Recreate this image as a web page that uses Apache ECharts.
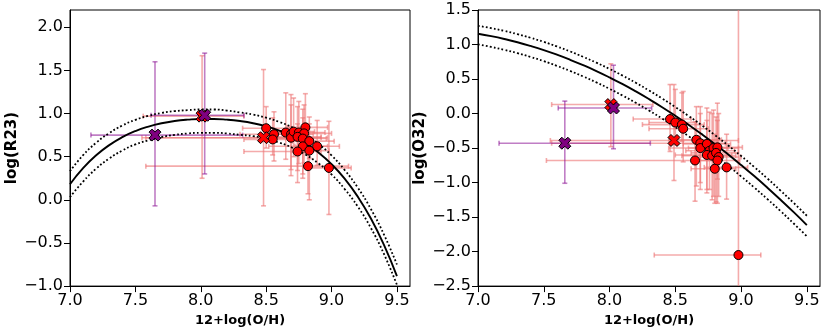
<!DOCTYPE html>
<html>
<head>
<meta charset="utf-8">
<script src="https://cdn.jsdelivr.net/npm/echarts@6/dist/echarts.min.js"></script>
<style>
html, body { margin: 0; padding: 0; background: #fff; }
#main { width: 830px; height: 332px; }
</style>
</head>
<body>
<div id="main"></div>
<script>
// calibration curves, sampled every 0.1 dex
var curveX = [7.0, 7.1, 7.2, 7.3, 7.4, 7.5, 7.6, 7.7, 7.8, 7.9, 8.0, 8.1, 8.2, 8.3, 8.4, 8.5, 8.6, 8.7, 8.8, 8.9, 9.0, 9.1, 9.2, 9.3, 9.4, 9.5]
var r23Fit = [0.181, 0.367, 0.516, 0.634, 0.726, 0.797, 0.849, 0.887, 0.913, 0.929, 0.937, 0.937, 0.929, 0.913, 0.888, 0.852, 0.803, 0.739, 0.655, 0.548, 0.414, 0.246, 0.038, -0.214, -0.520, -0.885]
var r23Up = [0.331, 0.517, 0.661, 0.774, 0.861, 0.927, 0.974, 1.007, 1.028, 1.039, 1.047, 1.047, 1.034, 1.013, 0.988, 0.952, 0.903, 0.839, 0.755, 0.648, 0.514, 0.346, 0.143, -0.104, -0.400, -0.750]
var r23Low = [0.031, 0.212, 0.361, 0.479, 0.571, 0.642, 0.689, 0.727, 0.753, 0.769, 0.777, 0.777, 0.769, 0.753, 0.738, 0.707, 0.663, 0.604, 0.525, 0.423, 0.294, 0.126, -0.077, -0.324, -0.625, -0.985]
var o32Fit = [1.156, 1.121, 1.080, 1.033, 0.979, 0.919, 0.852, 0.779, 0.700, 0.615, 0.523, 0.425, 0.320, 0.209, 0.092, -0.032, -0.162, -0.298, -0.440, -0.589, -0.745, -0.906, -1.074, -1.249, -1.429, -1.616]
var o32Up = [1.271, 1.237, 1.197, 1.150, 1.097, 1.038, 0.972, 0.900, 0.821, 0.737, 0.646, 0.549, 0.445, 0.334, 0.218, 0.095, -0.034, -0.169, -0.311, -0.459, -0.614, -0.774, -0.941, -1.116, -1.295, -1.481]
var o32Low = [1.001, 0.965, 0.923, 0.875, 0.820, 0.759, 0.691, 0.617, 0.537, 0.451, 0.358, 0.260, 0.155, 0.044, -0.073, -0.197, -0.327, -0.463, -0.605, -0.754, -0.910, -1.071, -1.239, -1.413, -1.593, -1.778]

// left panel: red circles (value, error bar ends)
var r23X = [8.50, 8.56, 8.55, 8.65, 8.69, 8.69, 8.71, 8.75, 8.80, 8.79, 8.74, 8.78, 8.83, 8.78, 8.89, 8.74, 8.83, 8.82, 8.98]
var r23Y = [0.83, 0.76, 0.70, 0.78, 0.76, 0.72, 0.79, 0.78, 0.84, 0.77, 0.73, 0.71, 0.68, 0.62, 0.62, 0.56, 0.57, 0.39, 0.37]
var r23XLo = [8.32, 8.30, 8.33, 8.50, 8.55, 7.58, 8.56, 8.60, 8.66, 8.62, 8.50, 8.55, 8.70, 8.52, 8.72, 8.33, 8.70, 7.58, 8.82]
var r23XHi = [8.68, 8.80, 8.77, 8.82, 8.86, 8.92, 8.87, 8.95, 8.97, 9.00, 8.92, 8.96, 9.02, 8.97, 9.06, 8.92, 8.98, 9.13, 9.15]
var r23YLo = [0.60, 0.45, 0.52, 0.47, 0.35, 0.28, 0.50, 0.42, 0.55, 0.43, 0.34, 0.30, 0.48, 0.25, 0.40, 0.20, 0.00, 0.07, -0.17]
var r23YHi = [1.08, 1.02, 0.95, 1.24, 1.22, 1.10, 1.18, 1.14, 1.23, 1.10, 1.08, 1.05, 0.96, 0.95, 0.92, 0.88, 0.88, 0.72, 0.91]
// left panel: red crosses
var r23CrossX = [8.48, 8.01]
var r23CrossY = [0.72, 0.97]
var r23CrossXLo = [7.55, 7.56]
var r23CrossXHi = [8.97, 8.33]
var r23CrossYLo = [-0.07, 0.25]
var r23CrossYHi = [1.51, 1.67]
// left panel: purple crosses
var r23PurpX = [7.65, 8.03]
var r23PurpY = [0.75, 0.98]
var r23PurpXLo = [7.16, 7.62]
var r23PurpXHi = [8.32, 8.33]
var r23PurpYLo = [-0.07, 0.30]
var r23PurpYHi = [1.60, 1.70]

// right panel: red circles
var o32X = [8.46, 8.50, 8.55, 8.56, 8.66, 8.69, 8.69, 8.74, 8.76, 8.79, 8.82, 8.74, 8.78, 8.81, 8.83, 8.82, 8.65, 8.80, 8.89, 8.98]
var o32Y = [-0.08, -0.13, -0.16, -0.22, -0.38, -0.43, -0.50, -0.44, -0.54, -0.50, -0.49, -0.60, -0.61, -0.57, -0.63, -0.68, -0.68, -0.80, -0.78, -2.05]
var o32XLo = [8.18, 8.30, 8.25, 8.30, 8.45, 7.56, 8.45, 8.56, 8.58, 8.60, 8.66, 8.50, 8.55, 8.62, 8.68, 8.66, 7.52, 8.62, 8.72, 8.34]
var o32XHi = [8.62, 8.66, 8.72, 8.75, 8.85, 8.88, 8.90, 8.92, 8.95, 8.98, 9.01, 8.93, 8.96, 8.98, 9.00, 8.99, 8.80, 8.96, 9.05, 9.15]
var o32YLo = [-0.55, -0.45, -0.40, -0.70, -1.05, -1.00, -1.10, -1.15, -1.10, -1.20, -0.95, -1.10, -1.25, -1.28, -1.20, -1.30, -1.27, -1.30, -1.24, -3.00]
var o32YHi = [0.42, 0.35, 0.30, 0.32, 0.10, 0.10, 0.00, 0.08, 0.02, 0.05, 0.15, -0.10, 0.00, -0.05, 0.00, -0.10, -0.12, -0.30, -0.30, 2.00]
// right panel: red crosses
var o32CrossX = [8.49, 8.01]
var o32CrossY = [-0.39, 0.13]
var o32CrossXLo = [7.55, 7.56]
var o32CrossXHi = [8.98, 8.33]
var o32CrossYLo = [-0.97, -0.48]
var o32CrossYHi = [0.42, 0.72]
// right panel: purple crosses
var o32PurpX = [7.66, 8.03]
var o32PurpY = [-0.43, 0.08]
var o32PurpXLo = [7.16, 7.61]
var o32PurpXHi = [8.31, 8.32]
var o32PurpYLo = [-1.01, -0.51]
var o32PurpYHi = [0.18, 0.70]

var xTicks = [7.0, 7.5, 8.0, 8.5, 9.0, 9.5]
var r23Ticks = [-1.0, -0.5, 0.0, 0.5, 1.0, 1.5, 2.0]
var o32Ticks = [-2.5, -2.0, -1.5, -1.0, -0.5, 0.0, 0.5, 1.0, 1.5]

var FONT = 'DejaVu Sans'
var PINK = 'rgba(238,120,120,0.62)'
var PURPLE = 'rgba(140,20,150,0.55)'
var CROSS = 'path://M-5,-2.5L-2.5,-5L0,-2.5L2.5,-5L5,-2.5L2.5,0L5,2.5L2.5,5L0,2.5L-2.5,5L-5,2.5L-2.5,0Z'

function zip (xs, ys) {
    return xs.map(function (x, i) { return [x, ys[i]] })
}
function errRows (x, y, xlo, xhi, ylo, yhi) {
    return x.map(function (v, i) { return [v, y[i], xlo[i], xhi[i], ylo[i], yhi[i]] })
}
function fmt (v) {
    return (v < 0 ? '\u2212' : '') + Math.abs(v).toFixed(1)
}

function errSeries (idx, rows, color) {
    return {
        type: 'custom',
        xAxisIndex: idx,
        yAxisIndex: idx,
        clip: true,
        silent: true,
        encode: { x: 0, y: 1 },
        data: rows,
        z: 1,
        renderItem: function (params, api) {
            var x = api.value(0), y = api.value(1)
            var a = api.coord([api.value(2), y]), b = api.coord([api.value(3), y])
            var c = api.coord([x, api.value(4)]), d = api.coord([x, api.value(5)])
            var h = 2.5
            var st = { stroke: color, lineWidth: 1.6, fill: null }
            function seg (x1, y1, x2, y2) {
                return { type: 'line', shape: { x1: x1, y1: y1, x2: x2, y2: y2 }, style: st }
            }
            return {
                type: 'group',
                children: [
                    seg(a[0], a[1], b[0], b[1]),
                    seg(a[0], a[1] - h, a[0], a[1] + h),
                    seg(b[0], b[1] - h, b[0], b[1] + h),
                    seg(c[0], c[1], d[0], d[1]),
                    seg(c[0] - h, c[1], c[0] + h, c[1]),
                    seg(d[0] - h, d[1], d[0] + h, d[1])
                ]
            }
        }
    }
}
function curve (idx, ys, dotted) {
    return {
        type: 'line',
        xAxisIndex: idx,
        yAxisIndex: idx,
        data: zip(curveX, ys),
        symbol: 'none',
        smooth: true,
        silent: true,
        z: 2,
        lineStyle: { color: '#000', width: dotted ? 1.8 : 1.9, type: dotted ? [1.8, 2.2] : 'solid' }
    }
}
function marks (idx, xs, ys, symbol, size, color, z) {
    return {
        type: 'scatter',
        xAxisIndex: idx,
        yAxisIndex: idx,
        data: zip(xs, ys),
        symbol: symbol,
        symbolSize: size,
        z: z,
        itemStyle: { color: color, borderColor: '#000', borderWidth: 1, opacity: 1 }
    }
}
function xAxisFor (idx) {
    return {
        gridIndex: idx,
        type: 'value',
        min: 7.0,
        max: 9.6,
        interval: 0.5,
        name: '12+log(O/H)',
        nameLocation: 'middle',
        nameGap: 25,
        nameTextStyle: { fontFamily: FONT, fontSize: 13, fontWeight: 'bold', color: '#000' },
        axisLine: { onZero: false, lineStyle: { color: '#000', width: 1 } },
        axisTick: { inside: false, length: 6, customValues: xTicks, lineStyle: { color: '#000', width: 1 } },
        axisLabel: { customValues: xTicks, formatter: fmt, fontFamily: FONT, fontSize: 16, color: '#000', margin: 7 },
        splitLine: { show: false }
    }
}
function yAxisFor (idx, name, min, max, ticks) {
    return {
        gridIndex: idx,
        type: 'value',
        min: min,
        max: max,
        interval: 0.5,
        name: name,
        nameLocation: 'middle',
        nameGap: 50,
        nameTextStyle: { fontFamily: FONT, fontSize: 15, fontWeight: 'bold', color: '#000' },
        axisLine: { onZero: false, lineStyle: { color: '#000', width: 1 } },
        axisTick: { inside: false, length: 6, customValues: ticks, lineStyle: { color: '#000', width: 1 } },
        axisLabel: { customValues: ticks, formatter: fmt, fontFamily: FONT, fontSize: 16, color: '#000', margin: 7 },
        splitLine: { show: false }
    }
}

var chart = echarts.init(document.getElementById('main'), null, { renderer: 'canvas' })
chart.setOption({
    animation: false,
    backgroundColor: '#fff',
    grid: [
        { left: 70, right: 420, top: 10, bottom: 44, show: true, borderColor: '#000', borderWidth: 1 },
        { left: 478, right: 10, top: 10, bottom: 44, show: true, borderColor: '#000', borderWidth: 1 }
    ],
    xAxis: [xAxisFor(0), xAxisFor(1)],
    yAxis: [
        yAxisFor(0, 'log(R23)', -1.0, 2.2, r23Ticks),
        yAxisFor(1, 'log(O32)', -2.5, 1.5, o32Ticks)
    ],
    series: [
        // R23 panel
        errSeries(0, errRows(r23X, r23Y, r23XLo, r23XHi, r23YLo, r23YHi), PINK),
        errSeries(0, errRows(r23CrossX, r23CrossY, r23CrossXLo, r23CrossXHi, r23CrossYLo, r23CrossYHi), PINK),
        errSeries(0, errRows(r23PurpX, r23PurpY, r23PurpXLo, r23PurpXHi, r23PurpYLo, r23PurpYHi), PURPLE),
        curve(0, r23Fit, false),
        curve(0, r23Up, true),
        curve(0, r23Low, true),
        marks(0, r23X, r23Y, 'circle', 9, '#ff0000', 3),
        marks(0, r23CrossX, r23CrossY, CROSS, 12, '#ff0000', 4),
        marks(0, r23PurpX, r23PurpY, CROSS, 12, '#800080', 5),
        // O32 panel
        errSeries(1, errRows(o32X, o32Y, o32XLo, o32XHi, o32YLo, o32YHi), PINK),
        errSeries(1, errRows(o32CrossX, o32CrossY, o32CrossXLo, o32CrossXHi, o32CrossYLo, o32CrossYHi), PINK),
        errSeries(1, errRows(o32PurpX, o32PurpY, o32PurpXLo, o32PurpXHi, o32PurpYLo, o32PurpYHi), PURPLE),
        curve(1, o32Fit, false),
        curve(1, o32Up, true),
        curve(1, o32Low, true),
        marks(1, o32X, o32Y, 'circle', 9, '#ff0000', 3),
        marks(1, o32CrossX, o32CrossY, CROSS, 12, '#ff0000', 4),
        marks(1, o32PurpX, o32PurpY, CROSS, 12, '#800080', 5)
    ]
})
</script>
</body>
</html>
